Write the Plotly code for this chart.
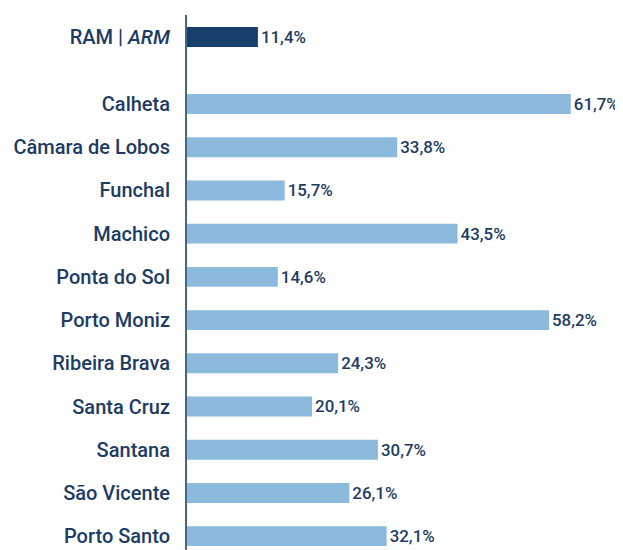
import plotly.graph_objects as go

categories = ["RAM | <i>ARM</i>", "Calheta", "Câmara de Lobos", "Funchal", "Machico",
              "Ponta do Sol", "Porto Moniz", "Ribeira Brava", "Santa Cruz",
              "Santana", "São Vicente", "Porto Santo"]
values = [11.4, 61.7, 33.8, 15.7, 43.5, 14.6, 58.2, 24.3, 20.1, 30.7, 26.1, 32.1]

# positions: the regional total sits apart from the municipalities
gap = 0.55
ypos = [0.0] + [i + gap for i in range(1, len(categories))]

colors = ["#173f6b"] + ["#8bbadc"] * (len(categories) - 1)
labels = [f"{v:.1f}%".replace(".", ",") for v in values]

txt = "#1d3c63"
fig = go.Figure(go.Bar(
    x=values, y=ypos, orientation="h", width=0.46,
    marker=dict(color=colors, line=dict(width=0)),
    text=labels, textposition="outside", cliponaxis=False,
    textfont=dict(family="Roboto", size=17, color=txt, weight=500),
))

# page body has an 8px default margin, so the figure is 8px smaller
fig.update_layout(
    width=615, height=542,
    margin=dict(l=179, r=0, t=7, b=0),
    paper_bgcolor="white", plot_bgcolor="white",
    showlegend=False,
    font=dict(family="Roboto", color=txt),
    xaxis=dict(range=[0, 70.1], visible=False, showgrid=False, zeroline=False),
    yaxis=dict(
        range=[ypos[-1] + 0.32, -0.51],
        tickvals=ypos, ticktext=categories,
        showgrid=False, zeroline=False,
        showline=True, linecolor="#4a6685", linewidth=2,
        ticks="", ticklabelstandoff=11,
        tickfont=dict(family="Roboto", size=20, color=txt, weight=500),
    ),
)

fig.write_html("out.html")
